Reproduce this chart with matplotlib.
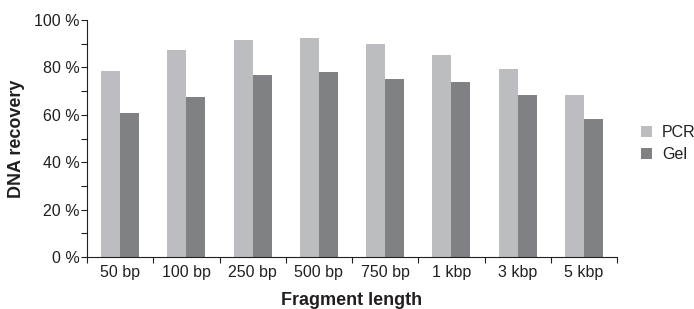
import numpy as np
import matplotlib
matplotlib.use("Agg")
import matplotlib.pyplot as plt
from matplotlib.ticker import MultipleLocator, FixedLocator, NullFormatter

# Data
fragments = ["50 bp", "100 bp", "250 bp", "500 bp", "750 bp", "1 kbp", "3 kbp", "5 kbp"]
pcr = [78.5, 87.3, 91.6, 92.4, 90.0, 85.2, 79.3, 68.4]
gel = [60.8, 67.5, 76.8, 78.0, 75.1, 73.8, 68.4, 58.2]

text_color = "#231f20"
pcr_color = "#bcbdc0"
gel_color = "#808184"

plt.rcParams["font.family"] = ["Liberation Sans", "DejaVu Sans"]
plt.rcParams["text.color"] = text_color
plt.rcParams["axes.labelcolor"] = text_color
plt.rcParams["xtick.color"] = text_color
plt.rcParams["ytick.color"] = text_color

fig = plt.figure(figsize=(6.94, 3.09), dpi=100)
ax = fig.add_axes([87 / 694, 1 - 257 / 309, 530 / 694, 237 / 309])

x = np.arange(len(fragments))
w = 0.287
ax.bar(x - w / 2, pcr, width=w, color=pcr_color, label="PCR")
ax.bar(x + w / 2, gel, width=w, color=gel_color, label="Gel")

ax.set_xlim(-0.5, len(fragments) - 0.5)
ax.set_ylim(0, 100)

# y axis: major ticks every 20 %, minor every 10 %
ax.yaxis.set_major_locator(MultipleLocator(20))
ax.yaxis.set_minor_locator(MultipleLocator(10))
ax.yaxis.set_major_formatter(lambda v, _: f"{int(v)} %")
ax.tick_params(axis="y", which="both", length=4.5, width=0.8, labelsize=11.5, pad=1)

# x axis: ticks at category boundaries, labels at centres
ax.xaxis.set_major_locator(FixedLocator(np.arange(len(fragments) + 1) - 0.5))
ax.xaxis.set_major_formatter(NullFormatter())
ax.xaxis.set_minor_locator(FixedLocator(x))
ax.set_xticklabels(fragments, minor=True)
ax.tick_params(axis="x", which="major", length=4.5, width=0.8)
ax.tick_params(axis="x", which="minor", length=0, labelsize=11.5, pad=6)

for side in ["top", "right"]:
    ax.spines[side].set_visible(False)
for side in ["left", "bottom"]:
    ax.spines[side].set_color(text_color)
    ax.spines[side].set_linewidth(0.8)

ax.set_ylabel("DNA recovery", fontsize=13, fontweight="bold")
ax.set_xlabel("Fragment length", fontsize=13, fontweight="bold")
ax.yaxis.set_label_coords(-0.117, 0.498)
ax.xaxis.set_label_coords(0.5, -0.147)

ax.legend(loc="center left", bbox_to_anchor=(1.045, 0.479), frameon=False,
          fontsize=11.5, handlelength=0.69, handleheight=0.69, handletextpad=0.62,
          labelspacing=0.45, borderpad=0, borderaxespad=0)

fig.savefig("out.png", dpi=100)
